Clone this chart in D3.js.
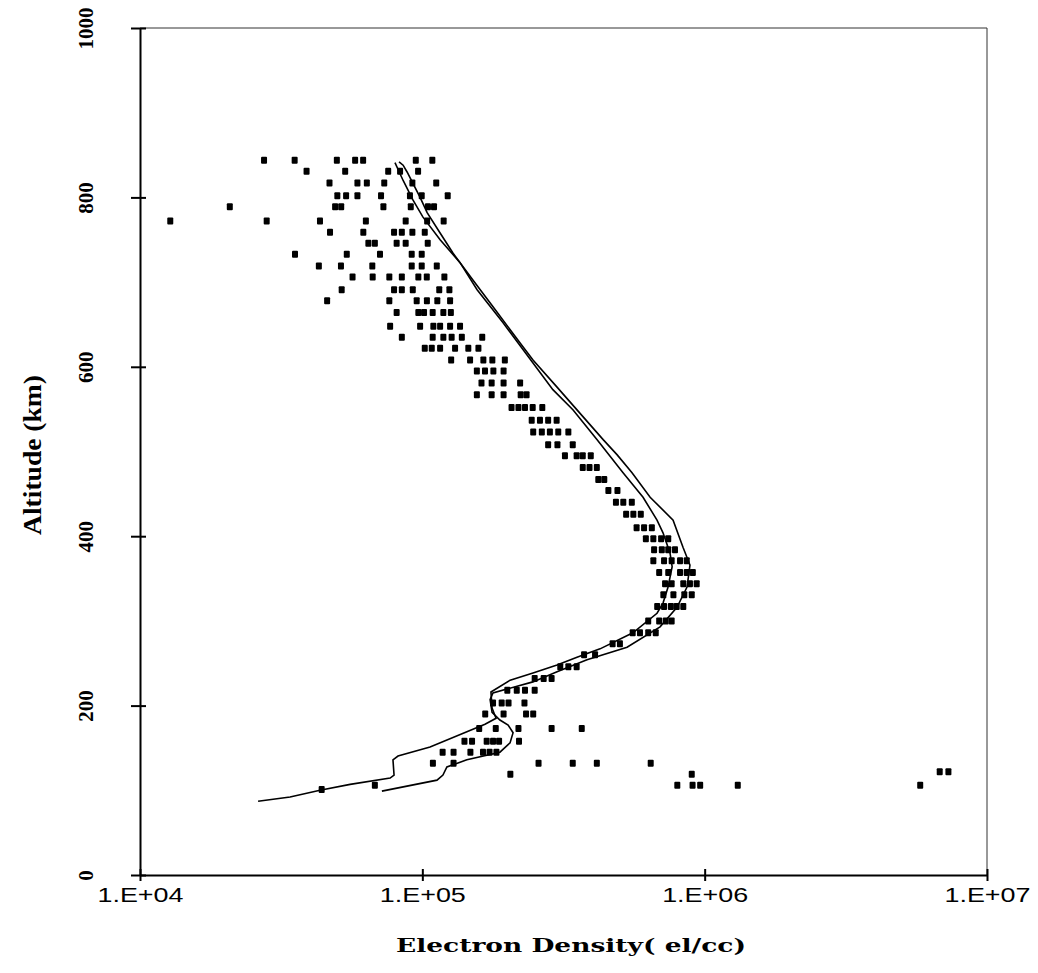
<!DOCTYPE html>
<html>
<head>
<meta charset="utf-8">
<script src="https://cdn.jsdelivr.net/npm/d3@7"></script>
<style>
  html, body { margin: 0; padding: 0; background: #fff; }
  svg { display: block; }
</style>
</head>
<body>
<svg id="chart" width="1038" height="973"></svg>
<script>
// ---------- data ----------
const densityTicks = [1e4, 1e5, 1e6, 1e7];
const densityTickLabels = ["1.E+04", "1.E+05", "1.E+06", "1.E+07"];
const altitudeTicks = [0, 200, 400, 600, 800, 1000];

// model profile 1 (outer / right branch at the F peak)
const profileOuterDensity = [7.19e4, 1.127e5, 1.183e5, 1.222e5, 1.438e5, 1.883e5, 2.045e5, 2.096e5, 2.013e5, 1.883e5,
  1.766e5, 1.738e5, 1.779e5, 2.464e5, 3.0e5, 3.83e5, 5.31e5, 6.95e5, 7.98e5, 8.66e5, 8.87e5, 8.38e5, 7.73e5, 6.41e5,
  5.53e5, 4.9e5, 4.37e5, 3.62e5, 3.0e5, 2.466e5, 2.22e5, 1.78e5, 1.515e5, 1.285e5, 1.156e5, 1.04e5, 9.82e4, 8.83e4, 8.55e4, 8.27e4];
const profileOuterAltitude = [99, 112, 118, 127.5, 136, 145, 156, 168, 177, 183,
  192, 207, 215, 228, 240, 254, 269, 293, 316, 340, 366, 387, 419, 446,
  475, 496, 514, 545, 576, 608, 628, 671, 702, 734, 758, 782, 800, 830, 838, 842];

// model profile 2 (inner branch)
const profileInnerDensity = [2.62e4, 3.4e4, 4.34e4, 5.55e4, 7.69e4, 7.94e4, 7.87e4, 8.2e4, 1.065e5, 1.438e5,
  1.667e5, 1.824e5, 1.766e5, 1.75e5, 2.047e5, 2.466e5, 3.0e5, 3.53e5, 4.26e5, 5.57e5, 6.78e5, 7.12e5, 7.42e5, 7.67e5,
  7.54e5, 7.12e5, 6.78e5, 6.05e5, 5.14e5, 4.16e5, 3.42e5, 2.9e5, 2.466e5, 1.932e5, 1.563e5, 1.36e5, 1.156e5, 1.004e5,
  9.26e4, 8.55e4, 8.0e4];
const profileInnerAltitude = [87, 92, 100, 107, 114.5, 118, 136, 140.5, 151, 169,
  178, 185, 197, 216, 230, 238.5, 248, 257, 267, 286, 309, 321, 340, 364,
  380, 404, 419, 446, 475, 514, 549, 573, 604.5, 652, 691, 723, 750, 777,
  797, 820, 841];

// measured densities, grouped by altitude row (km)
const obsAltitudes = [844, 831, 817, 802, 789, 772, 759, 746, 733, 719, 706, 691, 678, 664, 648, 635, 622, 608, 595, 581,
  567, 552, 537, 523, 508, 495, 481, 467, 454, 440, 426, 410, 397, 384, 371, 357, 344, 331, 317, 300,
  286, 273, 260, 246, 232, 218, 203, 190, 173, 158, 145, 132, 119, 106, 101, 122];
const obsDensities = [
  [2.75e4, 3.53e4, 4.98e4, 5.78e4, 6.17e4, 9.48e4, 1.085e5],
  [3.89e4, 5.33e4, 7.57e4, 8.34e4, 9.66e4],
  [4.69e4, 5.89e4, 6.36e4, 7.33e4, 9.22e4, 1.12e5],
  [5.0e4, 5.37e4, 5.89e4, 7.14e4, 9.04e4, 9.95e4, 1.23e5],
  [2.08e4, 4.91e4, 5.16e4, 7.28e4, 9.1e4, 1.047e5, 1.1e5],
  [1.28e4, 2.81e4, 4.34e4, 6.31e4, 8.73e4, 1.04e5, 1.19e5],
  [4.71e4, 6.18e4, 7.94e4, 8.46e4, 9.22e4, 1.02e5],
  [6.44e4, 6.79e4, 8.11e4, 8.73e4, 1.045e5],
  [3.54e4, 5.4e4, 7.08e4, 9.17e4, 9.95e4],
  [4.3e4, 5.15e4, 6.65e4, 9.17e4, 9.95e4, 1.125e5],
  [5.66e4, 6.67e4, 7.64e4, 8.46e4, 9.68e4, 1.037e5, 1.197e5],
  [5.18e4, 7.94e4, 8.46e4, 9.25e4, 1.148e5, 1.247e5],
  [4.6e4, 7.64e4, 9.55e4, 1.038e5, 1.13e5, 1.254e5],
  [8.11e4, 9.68e4, 1.014e5, 1.088e5, 1.187e5, 1.262e5],
  [7.69e4, 9.82e4, 1.094e5, 1.156e5, 1.254e5, 1.36e5],
  [8.46e4, 1.088e5, 1.187e5, 1.27e5, 1.38e5, 1.63e5],
  [1.02e5, 1.08e5, 1.156e5, 1.306e5, 1.455e5, 1.58e5],
  [1.265e5, 1.476e5, 1.645e5, 1.77e5, 1.96e5],
  [1.56e5, 1.667e5, 1.785e5, 1.94e5],
  [1.62e5, 1.76e5, 1.94e5, 2.22e5],
  [1.56e5, 1.76e5, 1.94e5, 2.23e5, 2.34e5],
  [2.07e5, 2.19e5, 2.31e5, 2.46e5, 2.66e5],
  [2.44e5, 2.61e5, 2.79e5, 2.99e5],
  [2.47e5, 2.65e5, 2.83e5, 3.03e5, 3.29e5],
  [2.79e5, 3.01e5, 3.41e5],
  [3.2e5, 3.52e5, 3.7e5, 3.95e5],
  [3.7e5, 3.91e5, 4.15e5],
  [4.2e5, 4.41e5],
  [4.56e5, 4.91e5],
  [4.85e5, 5.15e5, 5.52e5],
  [5.27e5, 5.59e5, 5.94e5],
  [5.74e5, 6.1e5, 6.5e5],
  [6.19e5, 6.58e5, 7.01e5, 7.43e5],
  [6.62e5, 7.05e5, 7.43e5, 7.85e5],
  [6.58e5, 7.18e5, 7.64e5, 8.18e5, 8.64e5],
  [6.9e5, 7.43e5, 8.18e5, 8.64e5, 9.08e5],
  [7.24e5, 7.64e5, 8.4e5, 8.87e5, 9.37e5],
  [7.14e5, 7.75e5, 8.47e5, 9.0e5],
  [6.79e5, 7.18e5, 7.59e5, 7.96e5, 8.4e5],
  [6.31e5, 6.9e5, 7.28e5, 7.64e5],
  [5.56e5, 5.9e5, 6.31e5, 6.71e5],
  [4.72e5, 5.01e5],
  [3.74e5, 4.09e5],
  [3.08e5, 3.29e5, 3.52e5],
  [2.5e5, 2.69e5, 2.87e5],
  [2.0e5, 2.16e5, 2.31e5, 2.5e5],
  [1.78e5, 1.91e5, 2.02e5, 2.3e5],
  [1.67e5, 1.94e5, 2.33e5, 2.47e5],
  [1.59e5, 1.82e5, 2.19e5, 2.87e5, 3.67e5],
  [1.41e5, 1.5e5, 1.69e5, 1.78e5, 1.87e5, 2.2e5],
  [1.18e5, 1.29e5, 1.48e5, 1.64e5, 1.73e5, 1.83e5],
  [1.09e5, 1.29e5, 2.58e5, 3.41e5, 4.15e5, 6.44e5],
  [2.05e5, 9.0e5],
  [6.79e4, 8.0e5, 9.06e5, 9.64e5, 1.31e6, 5.8e6],
  [4.4e4],
  [6.8e6, 7.3e6]
];

// ---------- drawing ----------
const svg = d3.select("#chart");
svg.append("rect").attr("width", 1038).attr("height", 973).attr("fill", "#fff");

const x = d3.scaleLog().domain([1e4, 1e7]).range([140, 987]);
const y = d3.scaleLinear().domain([0, 1000]).range([875, 28]);

// frame (top / right)
svg.append("line").attr("x1", 140).attr("x2", 987).attr("y1", 28).attr("y2", 28)
  .attr("stroke", "#333").attr("stroke-width", 1);
svg.append("line").attr("x1", 987).attr("x2", 987).attr("y1", 28).attr("y2", 875)
  .attr("stroke", "#333").attr("stroke-width", 1);

// x axis
const gx = svg.append("g").attr("transform", "translate(0,875)")
  .call(d3.axisBottom(x).tickValues(densityTicks).tickFormat((d, i) => densityTickLabels[i]).tickSizeOuter(0));
gx.select(".domain").attr("stroke", "#000").attr("stroke-width", 2);
gx.selectAll(".tick line").attr("y1", -6).attr("y2", 6).attr("stroke", "#000").attr("stroke-width", 2);
gx.selectAll(".tick text")
  .attr("y", 27).attr("dy", 0)
  .attr("font-family", "'Liberation Sans', Arial, sans-serif")
  .attr("font-size", 20).attr("fill", "#000")
  .attr("textLength", 86).attr("lengthAdjust", "spacingAndGlyphs");

// y axis
const gy = svg.append("g").attr("transform", "translate(140,0)")
  .call(d3.axisLeft(y).tickValues(altitudeTicks).tickFormat(d3.format("d")).tickSizeOuter(0));
gy.select(".domain").attr("stroke", "#000").attr("stroke-width", 2);
gy.selectAll(".tick line").attr("x1", -9).attr("x2", 6).attr("stroke", "#000").attr("stroke-width", 2);
gy.selectAll(".tick text")
  .attr("transform", "rotate(-90)")
  .attr("x", 0).attr("y", -47).attr("dy", 0)
  .attr("text-anchor", "middle")
  .attr("font-family", "'Liberation Serif', 'Times New Roman', serif")
  .attr("font-weight", "bold")
  .attr("font-size", 21).attr("fill", "#000");

// axis titles
svg.append("text")
  .attr("transform", "translate(41,455) rotate(-90)")
  .attr("text-anchor", "middle")
  .attr("font-family", "'Liberation Serif', 'Times New Roman', serif")
  .attr("font-weight", "bold").attr("font-size", 25)
  .attr("textLength", 160).attr("lengthAdjust", "spacingAndGlyphs")
  .text("Altitude (km)");

svg.append("text")
  .attr("x", 571).attr("y", 952)
  .attr("text-anchor", "middle")
  .attr("font-family", "'DejaVu Serif', 'Liberation Serif', serif")
  .attr("font-weight", "bold").attr("font-size", 19)
  .attr("textLength", 350).attr("lengthAdjust", "spacingAndGlyphs")
  .text("Electron Density( el/cc)");

// model profiles
const line = d3.line().x(d => x(d[0])).y(d => y(d[1]));
const outer = profileOuterDensity.map((d, i) => [d, profileOuterAltitude[i]]);
const inner = profileInnerDensity.map((d, i) => [d, profileInnerAltitude[i]]);
svg.append("path").datum(outer).attr("d", line)
  .attr("fill", "none").attr("stroke", "#000").attr("stroke-width", 1.6);
svg.append("path").datum(inner).attr("d", line)
  .attr("fill", "none").attr("stroke", "#000").attr("stroke-width", 1.6);

// observed points
const obs = [];
obsAltitudes.forEach((a, i) => obsDensities[i].forEach(d => obs.push([d, a])));
svg.append("g").selectAll("rect").data(obs).join("rect")
  .attr("x", d => x(d[0]) - 3).attr("y", d => y(d[1]) - 3.5)
  .attr("width", 6).attr("height", 7).attr("rx", 1)
  .attr("fill", "#000");
</script>
</body>
</html>
